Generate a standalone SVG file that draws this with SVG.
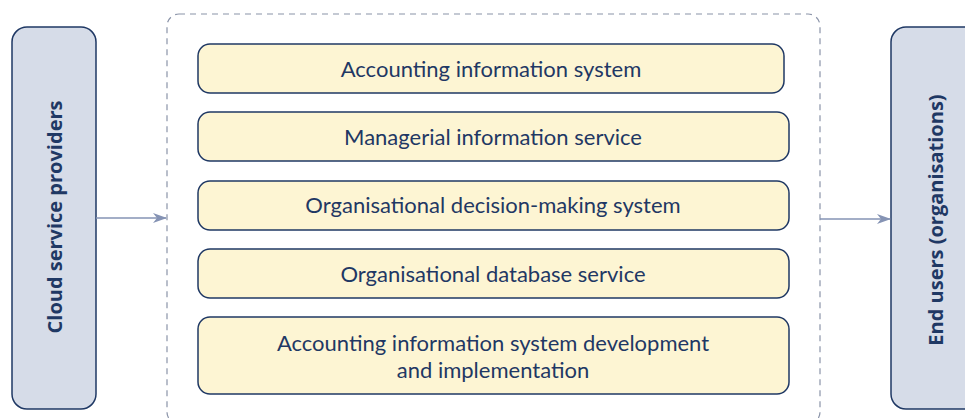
<svg xmlns="http://www.w3.org/2000/svg" width="965" height="418" viewBox="0 0 965 418">
  <style>
    .side { fill: #d6dce8; stroke: #1f3864; stroke-width: 1.5; }
    .item { fill: #fdf5d3; stroke: #1f3864; stroke-width: 1.5; }
    .label { font-family: Lato, "Liberation Sans", sans-serif; font-size: 22px; fill: #1f3864; text-anchor: middle; }
    .vlabel { font-family: "Open Sans", "Liberation Sans", sans-serif; font-size: 20px; font-weight: bold; fill: #1f3864; text-anchor: middle; }
    .link { stroke: #8593b4; stroke-width: 1.5; fill: none; }
  </style>
  <defs>
    <marker id="arrow" markerWidth="14" markerHeight="12" refX="13" refY="6" orient="auto" markerUnits="userSpaceOnUse">
      <path d="M0,1 L14,6 L0,11 L4,6 Z" fill="#8593b4"/>
    </marker>
  </defs>
  <rect width="965" height="418" fill="#ffffff"/>

  <g id="cloud-providers">
    <rect class="side" x="12" y="27" width="84" height="382" rx="15"/>
    <text class="vlabel" transform="translate(62,217) rotate(-90)">Cloud service providers</text>
  </g>

  <g id="services-container">
    <rect x="167" y="14" width="653" height="410" rx="12" fill="none" stroke="#8a93a8" stroke-width="1.2" stroke-dasharray="6,5"/>
  </g>

  <g id="accounting-info-system">
    <rect class="item" x="198" y="44" width="586" height="49" rx="12"/>
    <text class="label" x="491" y="77">Accounting information system</text>
  </g>
  <g id="managerial-info-service">
    <rect class="item" x="198" y="112" width="591" height="49" rx="12"/>
    <text class="label" x="493" y="145">Managerial information service</text>
  </g>
  <g id="decision-making-system">
    <rect class="item" x="198" y="181" width="591" height="49" rx="12"/>
    <text class="label" x="493" y="213">Organisational decision-making system</text>
  </g>
  <g id="database-service">
    <rect class="item" x="198" y="249" width="591" height="49" rx="12"/>
    <text class="label" x="493" y="282">Organisational database service</text>
  </g>
  <g id="ais-development">
    <rect class="item" x="198" y="317" width="591" height="77" rx="12"/>
    <text class="label" x="493" y="351">Accounting information system development</text>
    <text class="label" x="493" y="378">and implementation</text>
  </g>

  <g id="end-users">
    <rect class="side" x="891" y="27" width="90" height="382" rx="15"/>
    <text class="vlabel" transform="translate(943,220) rotate(-90)">End users (organisations)</text>
  </g>

  <g id="connectors">
    <line class="link" x1="96" y1="218" x2="166" y2="218" marker-end="url(#arrow)"/>
    <line class="link" x1="820" y1="219" x2="890" y2="219" marker-end="url(#arrow)"/>
  </g>
</svg>
